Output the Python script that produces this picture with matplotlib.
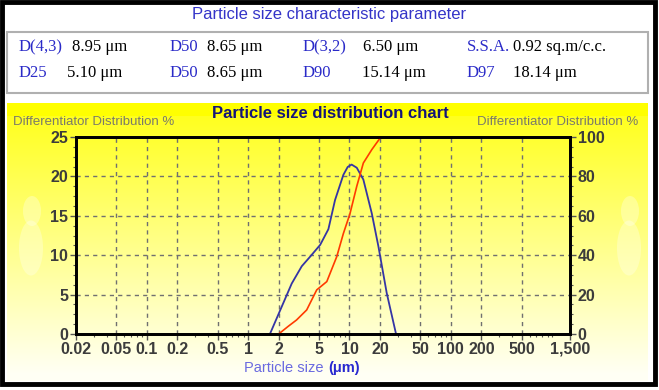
import numpy as np
import matplotlib
matplotlib.use('Agg')
import matplotlib.pyplot as plt
from matplotlib.patches import Rectangle, Ellipse
from matplotlib.ticker import FixedLocator, LogLocator, AutoMinorLocator, NullFormatter

# particle size distribution (um)
diff_size = [1.64, 2.15, 2.69, 3.38, 4.08, 5.13, 6.19, 7.2, 8.7, 9.6, 10.5, 11.8, 13.7, 16.6, 19.3, 23.3, 28.8]
diff_pct = [0, 3.5, 6.4, 8.6, 9.8, 11.3, 13.3, 17.0, 20.2, 21.2, 21.5, 21.1, 19.6, 15.3, 11.1, 5.2, 0]
cum_size = [2.0, 2.5, 3.0, 3.78, 4.75, 5.97, 7.49, 8.7, 10.1, 11.8, 13.7, 16.6, 20.4]
cum_pct = [0, 4.0, 7.1, 12.2, 22.4, 26.6, 39.3, 51, 61, 75, 86.8, 93.6, 100]

x_ticks = [0.02, 0.05, 0.1, 0.2, 0.5, 1, 2, 5, 10, 20, 50, 100, 200, 500, 1500]
x_labels = ['0.02', '0.05', '0.1', '0.2', '0.5', '1', '2', '5', '10', '20', '50', '100', '200', '500', '1,500']

param_names = [['D(4,3)', 'D50', 'D(3,2)', 'S.S.A.'], ['D25', 'D50', 'D90', 'D97']]
param_values = [['8.95 \u03bcm', '8.65 \u03bcm', '6.50 \u03bcm', '0.92 sq.m/c.c.'],
                ['5.10 \u03bcm', '8.65 \u03bcm', '15.14 \u03bcm', '18.14 \u03bcm']]

W, H = 659, 390
plt.rcParams['font.family'] = ['Liberation Sans', 'DejaVu Sans']
fig = plt.figure(figsize=(W / 100, H / 100), dpi=100)
fig.patch.set_facecolor('white')


def fx(px):
    return px / W


def fy(py):
    return 1 - py / H


# yellow gradient panel
bg = fig.add_axes([fx(7), fy(381), fx(648 - 7), (381 - 103) / H], zorder=0)
t = np.linspace(0, 1, 256)[:, None]
grad = np.zeros((256, 2, 3))
grad[:, :, 0] = 1.0
grad[:, :, 1] = 1.0
grad[:, :, 2] = np.clip(0.08 + 0.9 * t, 0, 0.96)
grad[:12, :, 2] = 0.0
bg.imshow(grad, aspect='auto', extent=[0, 641, 278, 0])
# faint white silhouettes on both sides
for cx, cy, w, h in [(25, 108, 18, 30), (24, 145, 24, 55), (623, 108, 18, 30), (622, 145, 24, 55)]:
    bg.add_patch(Ellipse((cx, cy), w, h, color='white', alpha=0.3, lw=0))
bg.set_xlim(0, 641)
bg.set_ylim(278, 0)
bg.set_axis_off()

# outer frame and parameter box
fig.patches.append(Rectangle((fx(2), fy(384)), fx(655 - 2), (384 - 2) / H, transform=fig.transFigure,
                             fill=False, ec='black', lw=3.5, zorder=10))
fig.patches.append(Rectangle((fx(7), fy(93)), fx(648 - 7), (93 - 32) / H, transform=fig.transFigure,
                             fill=False, ec='#b0b0b0', lw=1.5, zorder=10))

fig.text(fx(329), fy(15), 'Particle size characteristic parameter', color='#3434c8',
         fontsize=12, ha='center', va='center')
name_x = [19, 170, 303, 467]
val_x = [[72, 207, 363, 513], [67, 207, 362, 513]]
row_y = [47, 73]
for r in range(2):
    for c in range(4):
        fig.text(fx(name_x[c]), fy(row_y[r]), param_names[r][c], color='#2a2ac8',
                 family='Liberation Serif', fontsize=12, ha='left', va='center')
        fig.text(fx(val_x[r][c]), fy(row_y[r]), param_values[r][c], color='black',
                 family='Liberation Serif', fontsize=12, ha='left', va='center')

# chart
ax = fig.add_axes([fx(76), fy(334), fx(570 - 76), (334 - 137) / H], zorder=2)
ax.set_facecolor('none')
ax.set_xscale('log')
ax.set_xlim(0.02, 1500)
ax.set_ylim(0, 25)
ax2 = ax.twinx()
ax2.set_ylim(0, 100)

tick_kw = dict(fontsize=11.5, fontweight='bold', color='#3c3c3c')
ax.xaxis.set_major_locator(FixedLocator(x_ticks))
ax.set_xticklabels(x_labels, **tick_kw)
ax.xaxis.set_minor_locator(LogLocator(base=10, subs=np.arange(1, 10)))
ax.xaxis.set_minor_formatter(NullFormatter())
ax.set_yticks([0, 5, 10, 15, 20, 25])
ax.set_yticklabels(['0', '5', '10', '15', '20', '25'], **tick_kw)
ax.yaxis.set_minor_locator(AutoMinorLocator(4))
ax2.set_yticks([0, 20, 40, 60, 80, 100])
ax2.set_yticklabels(['0', '20', '40', '60', '80', '100'], **tick_kw)
ax2.yaxis.set_minor_locator(AutoMinorLocator(4))

for a in (ax, ax2):
    a.tick_params(which='major', length=4, width=1, color='#555555', pad=1.5)
    a.tick_params(which='minor', length=2.5, width=0.8, color='#555555')
    for s in a.spines.values():
        s.set_linewidth(2)
        s.set_color('black')

ax.grid(True, which='major', axis='both', color='#707070', lw=1, ls=(0, (3, 3)))

ax.plot(diff_size, diff_pct, color='#3535a5', lw=1.3)
ax2.plot(cum_size, cum_pct, color='#ff3a00', lw=1.2)

fig.text(fx(330), fy(113), 'Particle size distribution chart', color='#14147a',
         fontsize=12, fontweight='bold', ha='center', va='center')
fig.text(fx(13), fy(122), 'Differentiator Distribution %', color='#7a7a6a',
         fontsize=9.5, ha='left', va='center')
fig.text(fx(638), fy(122), 'Differentiator Distribution %', color='#7a7a6a',
         fontsize=9.5, ha='right', va='center')
fig.text(fx(323), fy(368), 'Particle size', color='#6a6ae0', fontsize=10.5,
         ha='right', va='center')
fig.text(fx(328), fy(368), '(\u03bcm)', color='#2828d0', fontsize=10.5, fontweight='bold',
         ha='left', va='center')

fig.savefig('out.png', dpi=100)
